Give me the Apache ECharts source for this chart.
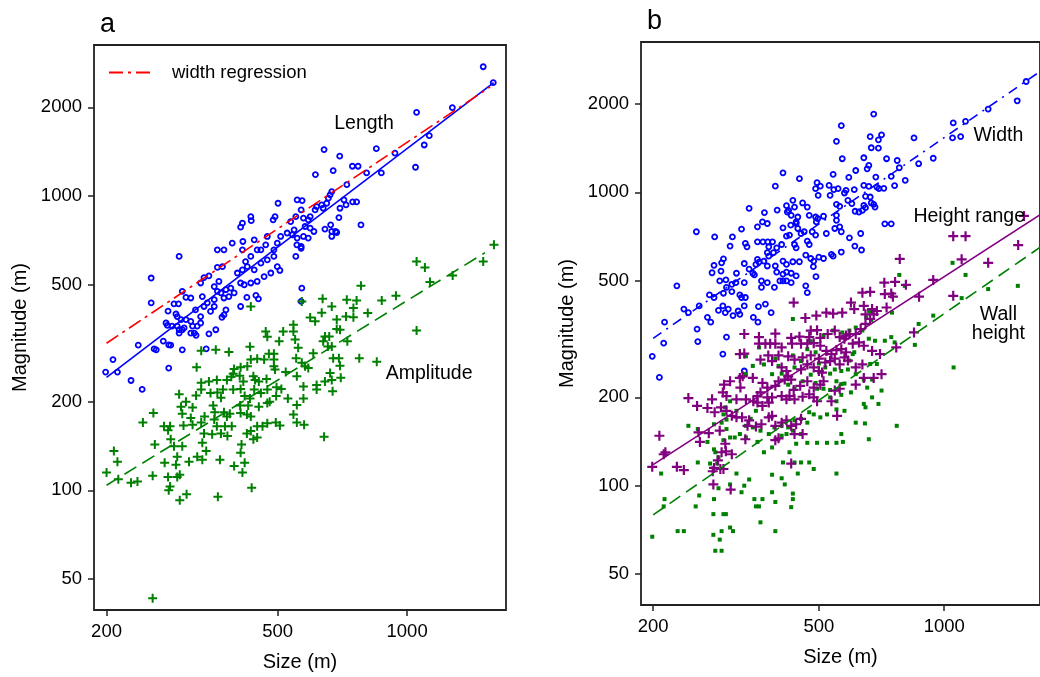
<!DOCTYPE html>
<html><head><meta charset="utf-8">
<script src="https://cdn.jsdelivr.net/npm/echarts@6/dist/echarts.min.js"></script>
<style>html,body{margin:0;padding:0;background:#fff}#c{width:1040px;height:677px}</style>
</head><body><div id="c"></div><script>
// ---- tick labels ----
const xTicks = [200, 500, 1000];
const yTicks = [50, 100, 200, 500, 1000, 2000];

// ---- panel a: Length (blue circles) ----
const lengthA = [[1503,2746],[1586,2424],[1274,1993],[1052,1923],[1126,1602],[1096,1489],[1046,1251],[937,1397],[848,1447],[871,1197],[805,1197],[746,1261],[769,1261],[724,1092],[641,1436],[697,1364],[673,1218],[612,1181],[781,797],[763,954],[747,954],[721,932],[698,908],[694,844],[664,797],[668,757],[668,728],[682,757],[644,771],[713,969],[650,944],[638,908],[662,1008],[656,982],[668,1034],[633,932],[616,920],[611,896],[595,850],[589,829],[579,787],[595,777],[589,719],[607,757],[686,751],[569,486],[574,840],[574,728],[567,664],[554,682],
[501,944],[555,969],[570,964],[567,896],[551,850],[536,818],[546,767],[526,748],[541,738],[555,719],[567,673],[551,623],[433,850],[434,824],[414,808],[410,783],[493,850],[488,829],[508,728],[499,691],[490,656],[473,728],[469,682],[457,656],[441,709],[448,656],[433,623],[421,598],[414,561],[403,547],[425,575],[441,561],[457,591],[473,606],[490,623],[499,575],[482,547],[465,532],[448,512],[433,506],[418,499],[410,506],[392,691],[415,700],[414,656],[375,656],[362,656],[372,575],[362,572],[346,535],[337,528],[331,506],[365,512],[356,492],[362,474],[369,468],[379,480],[389,486],[396,468],[385,455],[375,450],[356,444],[343,433],[337,421],[349,405],[356,421],[379,410],[375,394],[371,387],[410,421],[424,452],[445,459],[451,447],[567,438],[295,623],[254,526],[254,433],[300,474],[306,452],[314,450],[287,430],[294,430],[334,455],[322,410],[278,406],[290,397],[292,389],[275,370],[277,363],[298,380],[306,380],[314,375],[331,389],[331,370],[295,351],[300,351],[292,361],[303,356],[317,361],[325,361],[314,342],[320,342],[295,342],[346,340],[359,351],[284,361],[271,321],[279,312],[282,311],[300,300],[258,302],[261,300],[237,311],[341,302],[207,278],[199,252],[212,252],[228,236],[279,260],[242,220],[506,558],[323,336]];

// ---- panel a: Amplitude (green plus) ----
const amplitudeA = [[433,421],[469,346],[473,332],[515,346],[504,321],[332,298],[359,300],[385,295],[431,307],[477,291],[490,291],[433,278],[448,280],[465,278],[490,278],[324,262],[396,258],[410,262],[425,264],[394,249],[408,245],[416,234],[439,244],[443,237],[452,234],[471,239],[493,257],[490,264],[522,252],[332,232],[346,234],[361,237],[381,237],[390,243],[295,212],[306,200],[323,210],[332,220],[349,214],[362,215],[373,220],[369,206],[394,220],[410,221],[419,209],[431,205],[441,220],[457,214],[473,220],[497,224],[510,221],[528,205],[479,200],[496,209],[257,183],[243,170],[272,165],[281,165],[298,192],[300,182],[317,191],[314,176],[302,166],[317,167],[332,170],[338,178],[354,194],[357,184],[356,174],[361,165],[375,184],[381,178],[387,182],[377,165],[391,165],[409,194],[427,194],[410,183],[424,181],[433,178],[452,192],[473,198],[448,165],[461,165],[473,169],[495,170],[506,166],[352,155],[369,156],[382,153],[337,156],[334,145],[341,136],[278,160],[282,149],[287,141],[300,141],[259,143],[273,124],[290,122],[292,130],[311,125],[325,130],[334,127],[367,127],[412,143],[410,134],[419,124],[396,121],[414,115],[424,156],[439,149],[448,151],[433,159],[208,136],[212,125],[200,115],[213,109],[228,106],[236,107],[256,112],[278,111],[292,111],[296,113],[281,103],[279,100],[296,92.5],[307,97],[363,95],[435,102],[256,43],
[1592,682],[1503,598],[1052,598],[1100,571],[1276,537],[1130,510],[781,495],[569,438],[636,447],[668,421],[724,444],[763,441],[750,416],[873,441],[942,458],[810,400],[633,401],[595,386],[611,375],[686,380],[721,389],[750,387],[686,353],[698,351],[544,365],[544,346],[644,333],[659,333],[638,321],[668,308],[654,308],[726,321],[549,325],[558,305],[605,292],[552,281],[569,271],[579,264],[589,260],[673,281],[694,281],[698,265],[774,281],[850,273],[1052,349],[554,244],[574,225],[616,228],[616,220],[644,234],[662,250],[668,237],[701,241],[671,217],[574,205],[554,195],[544,181],[554,170],[576,167],[641,152]];

// ---- panel a: fitted lines (end points) ----
const lengthFitA = [[200,242],[1590,2424]];
const widthRegressionA = [[200,316],[1559,2345]];
const amplitudeFitA = [[200,104],[1517,641]];

// ---- panel b: Width (blue circles) ----
const widthB = [[566,1688],[551,1493],[569,1302],[410,1166],[449,1113],[541,1151],[393,1050],[495,1079],[491,1029],[504,1050],[529,1056],[543,1021],[556,1029],[498,977],[532,977],[551,910],[561,896],[340,882],[370,853],[397,870],[418,901],[433,939],[423,868],[429,835],[420,857],[437,891],[445,824],[441,793],[457,920],[469,891],[474,835],[491,824],[497,814],[513,829],[493,793],[551,835],[551,803],[546,753],[561,763],[566,734],[326,749],[356,763],[366,793],[376,783],[410,757],[428,773],[441,783],[445,753],[453,724],[461,734],[482,734],[491,715],[521,724],[425,715],[469,682],[474,664],[418,709],[254,734],[281,705],[310,705],[306,656],[333,670],[336,652],[356,678],[367,678],[377,678],[387,678],[379,652],[396,647],[407,664],[437,664],[441,647],[389,623],[376,623],[379,606],[295,593],[292,575],[280,564],[277,532],[291,539],[331,572],[356,591],[359,578],[353,568],[376,561],[369,583],[393,561],[410,583],[418,568],[433,580],[449,580],[465,611],[478,595],[486,583],[500,601],[513,595],[536,615],[541,606],[566,626],[485,558],[492,516],[441,519],[429,530],[418,535],[410,526],[396,535],[403,499],[410,499],[418,499],[429,492],[340,547],[347,530],[350,523],[317,530],[316,492],[299,503],[289,499],[309,486],[331,492],[364,499],[364,474],[391,474],[376,492],[465,480],[469,455],[228,480],[273,447],[280,438],[295,453],[300,474],[309,459],[323,447],[326,438],[333,438],[294,410],[303,400],[298,389],[287,396],[258,410],[237,400],[243,389],[213,361],[270,375],[275,361],[311,380],[323,384],[320,394],[331,410],[348,375],[357,361],[358,408],[372,416],[384,389],[255,342],
[199,276],[207,234],[212,306],[256,310],[300,321],[294,281],[331,246],
[1573,2387],[1497,2052],[1275,1923],[1125,1746],[1051,1724],[1095,1549],[1047,1533],[846,1533],[677,1849],[664,1549],[707,1570],[695,1510],[668,1419],[695,1414],[641,1312],[727,1302],[771,1284],[868,1252],[941,1307],[780,1213],[746,1133],[806,1098],[613,1187],[590,1124],[659,1235],[653,1203],[685,1127],[641,1056],[659,1048],[689,1042],[697,1029],[716,1032],[760,1054],[608,1021],[581,1016],[576,995],[587,939],[600,915],[647,969],[664,964],[668,920],[677,910],[682,891],[641,903],[647,887],[636,868],[624,857],[611,862],[592,700],[630,724],[610,656],[633,636],[720,781],[746,781]];

// ---- panel b: Height range (purple plus) ----
const heightRangeB = [[435,421],[464,373],[493,380],[521,389],[541,386],[569,389],[429,319],[449,322],[478,338],[495,339],[474,321],[504,319],[525,329],[546,338],[561,321],[393,330],[359,321],[359,305],[372,305],[382,305],[393,305],[407,296],[431,305],[453,305],[469,305],[486,306],[504,300],[521,288],[536,281],[551,290],[566,292],[331,329],[323,281],[331,282],[362,269],[378,278],[386,266],[400,278],[422,276],[437,269],[457,274],[478,278],[500,271],[518,263],[532,266],[546,271],[561,259],[407,253],[418,246],[422,236],[429,230],[414,230],[453,249],[469,259],[486,253],[500,246],[509,243],[513,227],[504,221],[486,216],[469,227],[451,219],[435,212],[425,202],[400,227],[393,219],[376,216],[366,224],[362,208],[356,202],[347,233],[328,236],[324,216],[323,233],[306,227],[296,221],[294,208],[300,202],[317,197],[334,197],[348,194],[356,192],[366,187],[376,200],[379,192],[386,200],[407,202],[418,197],[437,197],[457,201],[474,205],[486,200],[495,194],[546,211],[561,214],[536,194],[553,173],[243,199],[255,187],[270,184],[277,197],[281,178],[291,185],[300,180],[309,173],[317,171],[327,171],[337,160],[340,167],[353,159],[364,162],[379,171],[386,173],[393,160],[407,164],[418,167],[429,160],[441,162],[453,169],[400,145],[393,143],[437,150],[457,150],[259,141],[257,152],[272,151],[289,154],[298,139],[299,131],[292,130],[309,128],[286,122],[290,114],[280,115],[278,112],[295,114],[279,101],[307,97],[207,148],[212,128],[214,130],[199,116],[228,116],[237,113],[333,144],[429,119],
[1051,709],[1125,709],[1505,661],[1101,591],[1275,575],[941,503],[870,441],[1051,444],[782,593],[718,492],[762,495],[809,484],[636,455],[664,458],[720,450],[746,452],[753,441],[597,421],[608,400],[641,410],[671,400],[689,394],[727,405],[647,384],[677,384],[664,370],[647,356],[630,342],[613,329],[592,329],[581,325],[576,317],[603,305],[624,308],[641,300],[581,285],[576,274],[587,267],[613,253],[636,259],[671,288],[701,281],[707,240],[677,233],[613,221],[641,233],[846,333],[767,296],[1554,831]];

// ---- panel b: Wall height (green squares) ----
const wallHeightB = [[433,370],[513,325],[541,338],[569,333],[478,311],[469,292],[491,285],[433,278],[453,266],[437,253],[500,261],[518,253],[532,241],[546,249],[566,246],[551,227],[566,222],[566,204],[551,194],[359,296],[393,271],[400,256],[386,240],[369,259],[334,276],[347,256],[334,240],[407,241],[422,221],[437,214],[457,227],[478,239],[491,224],[495,214],[513,214],[532,212],[532,200],[551,182],[523,175],[504,171],[486,175],[474,178],[469,164],[453,169],[437,167],[422,158],[407,160],[391,158],[379,150],[362,154],[347,158],[334,160],[323,150],[314,146],[306,146],[295,143],[300,156],[280,162],[270,141],[280,133],[282,130],[287,125],[285,119],[274,119],[256,120],[256,156],[243,160],[295,175],[300,168],[343,169],[353,180],[306,194],[298,185],[292,164],[317,180],[334,146],[356,141],[369,130],[386,135],[407,148],[418,150],[433,154],[453,150],[469,140],[495,140],[523,140],[551,140],[566,150],[441,139],[425,130],[410,120],[437,120],[453,120],[474,120],[486,114],[551,110],[445,110],[386,109],[407,106],[414,101],[433,94],[433,90],[429,84.5],[386,95],[393,88],[366,90],[353,85],[359,85],[350,90],[331,100],[340,105],[317,110],[326,95],[306,101],[287,98],[280,90],[279,80],[295,80],[299,80],[258,92.6],[253,85],[213,90],[212,85],[229,70],[237,70],[199,67],[279,68],[292,70],[306,72],[311,70],[289,65.5],[282,60],[292,60],[362,75],[393,70],[209,110],
[1047,575],[1125,523],[780,523],[804,480],[749,389],[868,356],[941,380],[850,302],[1053,253],[1275,468],[1502,480],[1101,436],[720,312],[746,321],[760,308],[682,312],[659,317],[636,338],[613,346],[592,338],[608,285],[613,240],[641,230],[671,230],[653,216],[671,200],[707,211],[695,190],[641,190],[647,185],[576,180],[613,164],[645,163],[659,144],[769,160],[571,141],[576,223],[587,249],[592,267],[603,281],[664,260],[689,260],[597,208],[660,394],[668,367],[650,375]];

// ---- panel b: fitted lines (end points) ----
const widthFitB = [[200,318],[1700,2585]];
const heightRangeFitB = [[200,118],[1700,839]];
const wallHeightFitB = [[200,79.5],[1700,650]];

// ---- annotation text anchors (data space) ----
const annotA = [{name:'Length', value:[794,1756]}, {name:'Amplitude', value:[1125,249]}];
const annotB = [{name:'Width', value:[1349,1561]}, {name:'Height range', value:[1148,824]}, {name:'Wall\nheight', value:[1349,355]}];

const FONT = '"Liberation Sans", Arial, Helvetica, sans-serif';
const INK = '#000';
const BLUE = '#0000ff', RED = '#ff0000', GREEN = '#008000', PURPLE = '#800080';
const PLUS9 = 'path://M3.5,0H5.5V3.5H9V5.5H5.5V9H3.5V5.5H0V3.5H3.5Z';
const PLUS10 = 'path://M3.9,0H6.1V3.9H10V6.1H6.1V10H3.9V6.1H0V3.9H3.9Z';
const fmt = v => String(Math.round(v));

function mkX(gi){
  return {type:'log', gridIndex:gi, logBase:10, min:187, max:1698,
    axisLine:{show:false}, splitLine:{show:false},
    axisTick:{show:true, inside:false, length:6, lineStyle:{color:'#222', width:1.5}, customValues:xTicks},
    axisLabel:{customValues:xTicks, formatter:fmt, fontSize:18.5, color:INK, fontFamily:FONT, margin:12},
    name:'Size (m)', nameLocation:'middle', nameGap:42,
    nameTextStyle:{fontSize:20, color:INK, fontFamily:FONT}};
}
function mkY(gi){
  return {type:'log', gridIndex:gi, logBase:10, min:39.2, max:3255,
    axisLine:{show:false}, splitLine:{show:false},
    axisTick:{show:true, inside:false, length:6, lineStyle:{color:'#222', width:1.5}, customValues:yTicks},
    axisLabel:{customValues:yTicks, formatter:fmt, fontSize:18.5, color:INK, fontFamily:FONT, margin:12},
    name:'Magnitude (m)', nameLocation:'middle', nameGap:64,
    nameTextStyle:{fontSize:20, color:INK, fontFamily:FONT}};
}
function pts(data, gi, symbol, size, style){
  return {type:'scatter', xAxisIndex:gi, yAxisIndex:gi, data:data, symbol:symbol, symbolSize:size,
    itemStyle:Object.assign({opacity:1}, style), silent:true, animation:false};
}
function fit(name, data, gi, color, type, width){
  return {type:'line', name:name, xAxisIndex:gi, yAxisIndex:gi, data:data, symbol:'none', showSymbol:false,
    lineStyle:{color:color, type:type, width:width, opacity:1}, itemStyle:{color:color}, silent:true, animation:false};
}
function notes(data, gi){
  return {type:'scatter', xAxisIndex:gi, yAxisIndex:gi, data:data, symbolSize:1,
    itemStyle:{color:'transparent', opacity:1}, silent:true, animation:false,
    label:{show:true, position:'inside', formatter:'{b}', fontSize:19.5, lineHeight:19, color:INK, fontFamily:FONT, align:'center'}};
}

const chart = echarts.init(document.getElementById('c'), null, {renderer:'canvas'});
chart.setOption({
  animation:false,
  backgroundColor:'#fff',
  title:[
    {text:'a', left:100, top:11, padding:0, textStyle:{fontSize:27, fontWeight:'normal', color:INK, fontFamily:FONT}},
    {text:'b', left:647, top:8, padding:0, textStyle:{fontSize:27, fontWeight:'normal', color:INK, fontFamily:FONT}}
  ],
  legend:{data:['width regression'], left:108, top:63, padding:0, itemWidth:46, itemHeight:16, selectedMode:false,
    itemStyle:{opacity:0},
    textStyle:{fontSize:18.5, color:INK, fontFamily:FONT, padding:[0,0,0,12]}},
  grid:[
    {left:94, top:45, width:412, height:565, show:true, borderColor:'#222', borderWidth:1.8, backgroundColor:'transparent'},
    {left:641, top:42, width:412, height:563, show:true, borderColor:'#222', borderWidth:1.8, backgroundColor:'transparent'}
  ],
  xAxis:[mkX(0), mkX(1)],
  yAxis:[mkY(0), mkY(1)],
  series:[
    pts(lengthA, 0, 'circle', 5, {color:'transparent', borderColor:BLUE, borderWidth:1.8}),
    pts(amplitudeA, 0, PLUS9, 9, {color:GREEN}),
    fit('length fit', lengthFitA, 0, BLUE, 'solid', 1.6),
    fit('width regression', widthRegressionA, 0, RED, [14,5,3,5], 1.7),
    fit('amplitude fit', amplitudeFitA, 0, GREEN, [14,7], 1.6),
    notes(annotA, 0),
    pts(widthB, 1, 'circle', 5, {color:'transparent', borderColor:BLUE, borderWidth:1.8}),
    pts(wallHeightB, 1, 'rect', 4, {color:GREEN}),
    pts(heightRangeB, 1, PLUS10, 10, {color:PURPLE}),
    fit('width fit', widthFitB, 1, BLUE, [10,6,2,6], 1.6),
    fit('height range fit', heightRangeFitB, 1, PURPLE, 'solid', 1.6),
    fit('wall height fit', wallHeightFitB, 1, GREEN, [13,7], 1.6),
    notes(annotB, 1)
  ]
});
</script></body></html>
